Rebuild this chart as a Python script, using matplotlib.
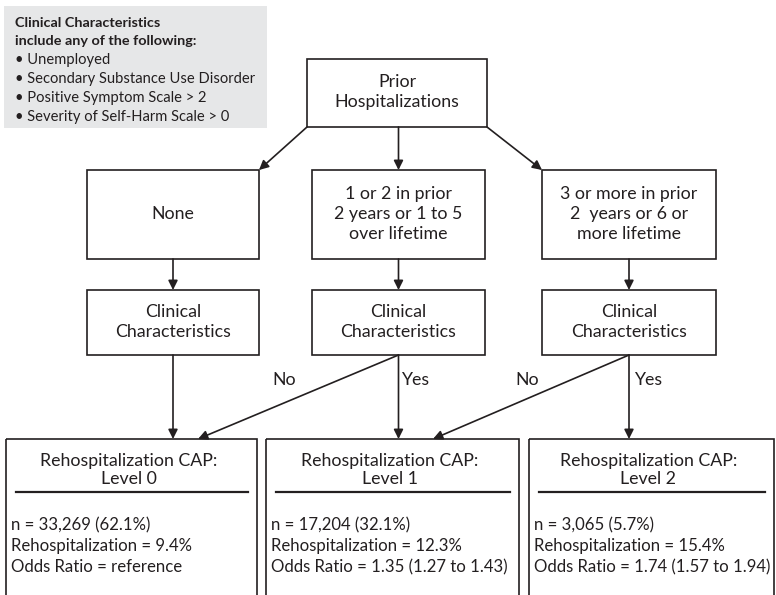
import matplotlib
matplotlib.use("Agg")
import matplotlib.pyplot as plt
from matplotlib.patches import Rectangle, FancyArrowPatch

plt.rcParams["font.family"] = ["Lato", "DejaVu Sans"]

# ---- contenido del diagrama ----
legend_title = ["Clinical Characteristics", "include any of the following:"]
legend_items = ["Unemployed", "Secondary Substance Use Disorder",
                "Positive Symptom Scale > 2", "Severity of Self-Harm Scale > 0"]

root_label = "Prior\nHospitalizations"
branch_labels = ["None",
                 "1 or 2 in prior\n2 years or 1 to 5\nover lifetime",
                 "3 or more in prior\n2  years or 6 or\nmore lifetime"]
clinical_label = "Clinical\nCharacteristics"

levels = ["Level 0", "Level 1", "Level 2"]
n_counts = ["33,269", "17,204", "3,065"]
n_pcts = ["62.1%", "32.1%", "5.7%"]
rehosp_rates = ["9.4%", "12.3%", "15.4%"]
odds_ratios = ["reference", "1.35 (1.27 to 1.43)", "1.74 (1.57 to 1.94)"]

# ---- geometría (px) ----
W, H = 776, 595
fig = plt.figure(figsize=(W / 100, H / 100), dpi=100)
ax = fig.add_axes([0, 0, 1, 1])
ax.set_xlim(0, W)
ax.set_ylim(H, 0)
ax.axis("off")

INK = "#231f20"
LW = 1.2
FS = 12.8
FS_OUT = 12.1


def box(x0, y0, x1, y1, **kw):
    ax.add_patch(Rectangle((x0, y0), x1 - x0, y1 - y0, fill=False,
                           edgecolor=INK, linewidth=LW, **kw))


def arrow(p0, p1):
    ax.add_patch(FancyArrowPatch(p0, p1, arrowstyle="-|>", mutation_scale=14,
                                 color=INK, linewidth=LW,
                                 shrinkA=0, shrinkB=0))


# recuadro gris
ax.add_patch(Rectangle((4, 6), 263, 122, facecolor="#e6e7e8",
                       edgecolor="none"))
ax.text(15, 23, legend_title[0], fontsize=10.4, fontweight="bold",
        va="center", color=INK)
ax.text(15, 41, legend_title[1], fontsize=10.4, fontweight="bold",
        va="center", color=INK)
for i, item in enumerate(legend_items):
    ax.text(15, 60 + i * 19, "\u2022 " + item, fontsize=10.6,
            va="center", color=INK)

# raíz
box(307, 59, 487, 127)
ax.text(397, 92, root_label, fontsize=FS, ha="center", va="center",
        linespacing=1.3, color=INK)

# ramas
branch_x = [(87, 259), (312, 485), (542, 716)]
centers = [(a + b) / 2 for a, b in branch_x]
for (x0, x1), lab in zip(branch_x, branch_labels):
    box(x0, 170, x1, 259)
    ax.text((x0 + x1) / 2, 214, lab, fontsize=FS, ha="center", va="center",
            linespacing=1.3, color=INK)
    box(x0, 290, x1, 355)
    ax.text((x0 + x1) / 2, 322, clinical_label, fontsize=FS, ha="center",
            va="center", linespacing=1.3, color=INK)

arrow((307, 127), (259, 170))
arrow((centers[1], 127), (centers[1], 170))
arrow((487, 127), (542, 170))
for c in centers:
    arrow((c, 259), (c, 290))

# resultados
out_x = [(6, 257), (266, 519), (529, 774)]
out_top = 439
for (x0, x1), lev, n, p, r, o in zip(out_x, levels, n_counts, n_pcts,
                                     rehosp_rates, odds_ratios):
    box(x0, out_top, x1, H + 10)
    cx = (x0 + x1) / 2 - 3
    ax.text(cx, 470, "Rehospitalization CAP:\n" + lev, fontsize=FS,
            ha="center", va="center", linespacing=1.2, color=INK)
    ax.plot([x0 + 10, x1 - 9], [492, 492], color=INK, linewidth=1.6)
    ax.text(x0 + 5, 546,
            f"n = {n} ({p})\nRehospitalization = {r}\nOdds Ratio = {o}",
            fontsize=FS_OUT, ha="left", va="center", linespacing=1.38,
            color=INK)

# flechas de decisión
arrow((centers[0], 355), (centers[0], out_top))
arrow((centers[1], 355), (198, out_top))
arrow((centers[1], 355), (centers[1], out_top))
arrow((centers[2], 355), (433, out_top))
arrow((centers[2], 355), (centers[2], out_top))

for x, lab in [(284, "No"), (415, "Yes"), (527, "No"), (648, "Yes")]:
    ax.text(x, 380, lab, fontsize=FS, ha="center", va="center", color=INK)

fig.savefig("out.png", dpi=100)
